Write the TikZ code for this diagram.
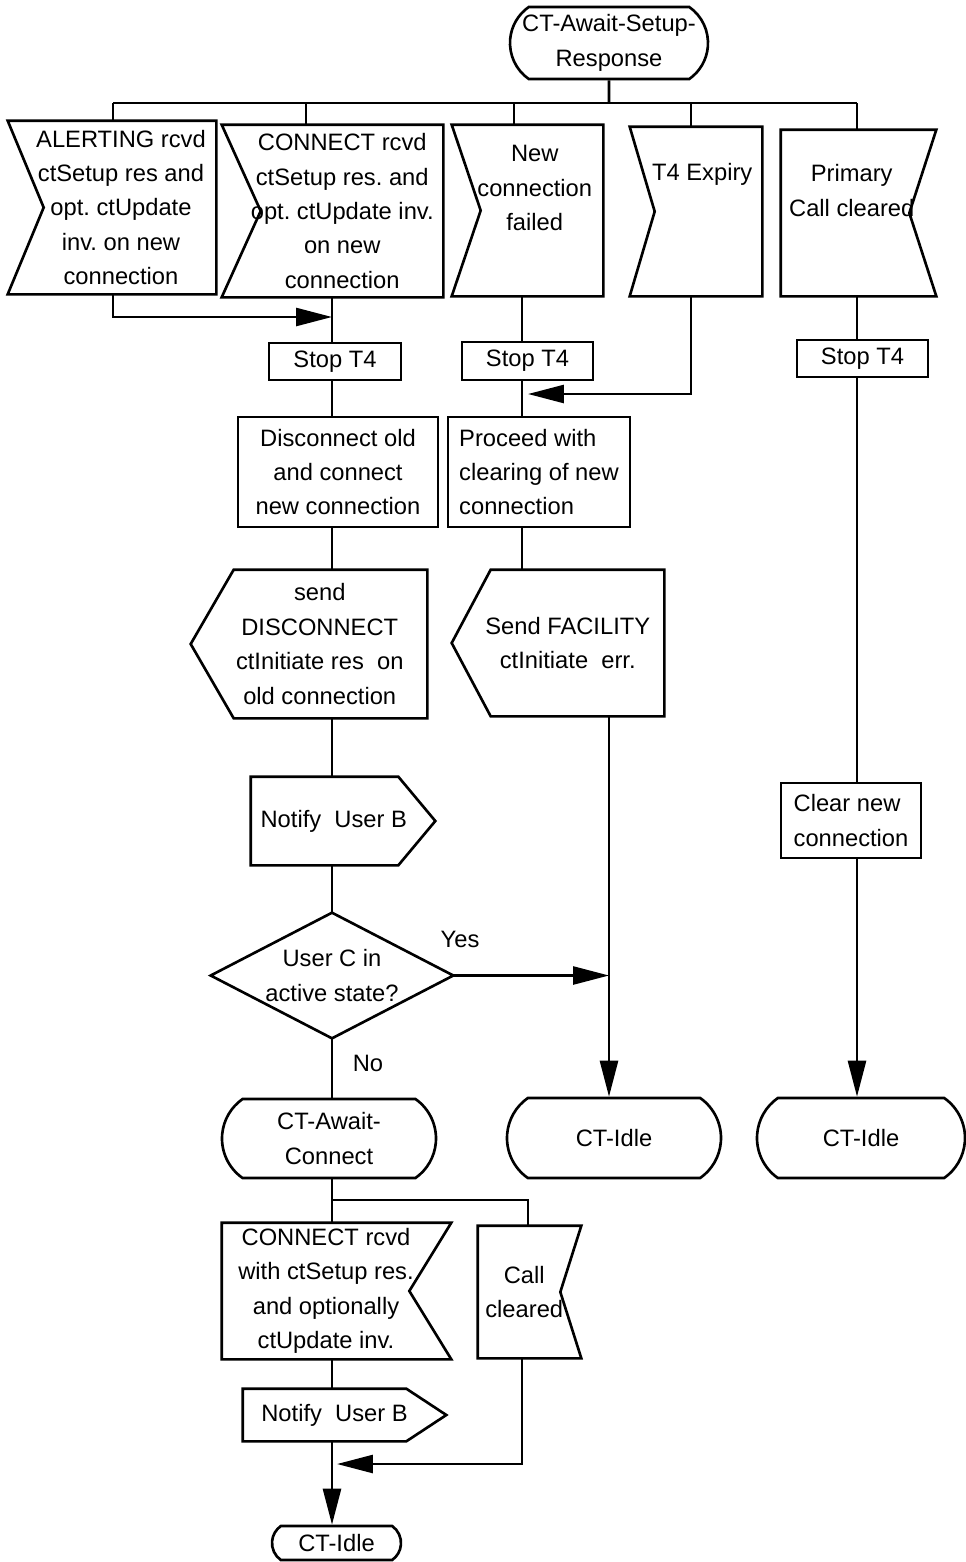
\documentclass[tikz,border=0pt]{standalone}
\usepackage{fontspec}
\setmainfont{Liberation Sans}
\usetikzlibrary{arrows.meta,shapes.misc}
\begin{document}
\begin{tikzpicture}[
        x=0.02cm, y=-0.02cm,
        line width=1.5pt,
        every node/.style={font=\fontsize{13.5}{19.6}\selectfont\frenchspacing, align=center, inner sep=0pt},
        sz/.style 2 args={minimum width=#1*0.02cm, minimum height=#2*0.02cm},
        state/.style={draw, rounded rectangle, rounded rectangle arc length=110},
        task/.style={draw, rectangle},
        arr/.style={-{Triangle[length=0.72cm, width=0.36cm]}}
    ]
    \useasboundingbox (0,0) rectangle (966,1562);

    \coordinate (busL) at (113,103);
    \coordinate (busR) at (857,103);
    \coordinate (colA) at (332,0);
    \coordinate (colB) at (522,0);
    \coordinate (colC) at (609,0);
    \coordinate (colD) at (857,0);
    \coordinate (j1) at (113,317);
    \coordinate (j2) at (691,394);
    \coordinate (j3) at (528,1200);
    \coordinate (j4) at (522,1464);

    \node[state, sz={198}{72}] (start) at (609,43) {CT-Await-Setup-\\Response};
    \node[state, sz={214}{79}] (await) at (329,1138.5) {CT-Await-\\Connect};
    \node[state, sz={214}{80}] (idle1) at (614,1138) {CT-Idle};
    \node[state, sz={208}{80}] (idle2) at (861,1138) {CT-Idle};
    \node[state, sz={129}{34}] (idle3) at (336.5,1543) {CT-Idle};

    \node[sz={188}{171}] (alert) at (121,207.5) {ALERTING rcvd\\ctSetup res and\\opt. ctUpdate\\inv. on new\\connection};
    \node[sz={199.5}{170}] (conn) at (342.25,211) {CONNECT rcvd\\ctSetup res. and\\opt. ctUpdate inv.\\on new\\connection};
    \node[sz={134.5}{169}] (newfail) at (534.75,210.5) {New\\connection\\failed\\\strut};
    \node[sz={117.5}{167}] (t4exp) at (702.25,211.5) {T4 Expiry\\\strut\\\strut};
    \node[sz={139.5}{164}] (primary) at (851.75,213) {Primary\\Call cleared\\\strut};
    \node[sz={206}{134}] (crcvd) at (326,1291) {CONNECT rcvd\\with ctSetup res.\\and optionally\\ctUpdate inv.};
    \node[sz={90.5}{130}] (callclr) at (524.25,1292) {Call\\cleared};

    \node[task, sz={132}{37}] (stop1) at (335,361.5) {Stop T4};
    \node[task, sz={131}{38}] (stop2) at (527.5,361) {Stop T4};
    \node[task, sz={131}{37}] (stop3) at (862.5,358.5) {Stop T4};
    \node[task, sz={200}{110}] (disc) at (338,472) {Disconnect old\\and connect\\new connection};
    \node[task, sz={182}{110}, align=left] (proceed) at (539,472) {Proceed with\\clearing of new\\connection};
    \node[task, sz={140}{75}, align=left] (clearnew) at (851,820.5) {Clear new\\connection};

    \node[sz={212.5}{146}] (senddisc) at (319.75,644) {send\\DISCONNECT\\ctInitiate res~~on\\old connection};
    \node[sz={190.5}{144}] (sendfac) at (567.75,643) {Send FACILITY\\ctInitiate~~err.};
    \node[sz={163.5}{86}] (notify1) at (333.75,821) {Notify~~User B};
    \node[sz={181}{50}] (notify2) at (334.5,1415) {Notify~~User B};

    \node[sz={240}{123}] (decide) at (332,975.5) {User C in\\active state?};
    \node (yes) at (460,939) {Yes};
    \node (no) at (368,1063) {No};

    \foreach \n/\h in {alert/18,conn/19.5,newfail/14.5,t4exp/12.5}
        \draw ([xshift=-\h*0.02cm]\n.north west) -- (\n.north east) -- (\n.south east)
            -- ([xshift=-\h*0.02cm]\n.south west) -- ([xshift=\h*0.02cm]\n.west) -- cycle;
    \foreach \n/\h in {primary/13.5,crcvd/21,callclr/10.5}
        \draw (\n.north west) -- ([xshift=\h*0.02cm]\n.north east) -- ([xshift=-\h*0.02cm]\n.east)
            -- ([xshift=\h*0.02cm]\n.south east) -- (\n.south west) -- cycle;
    \foreach \n/\h in {senddisc/21.5,sendfac/19.5}
        \draw ([xshift=-\h*0.02cm]\n.west) -- ([xshift=\h*0.02cm]\n.north west) -- (\n.north east)
            -- (\n.south east) -- ([xshift=\h*0.02cm]\n.south west) -- cycle;
    \foreach \n/\h in {notify1/18.5,notify2/20}
        \draw (\n.north west) -- ([xshift=-\h*0.02cm]\n.north east) -- ([xshift=\h*0.02cm]\n.east)
            -- ([xshift=-\h*0.02cm]\n.south east) -- (\n.south west) -- cycle;
    \draw (decide.north) -- (decide.east) -- (decide.south) -- (decide.west) -- cycle;

    \draw (start) -- (start |- busL);
    \draw (busL) -- (busR);
    \foreach \x/\n in {113/alert,306/conn,514/newfail,691/t4exp,857/primary}
        \draw (\x,103) -- (\x,103 |- \n.north);

    \draw[arr] (j1 |- alert.south) -- (j1) -- (j1 -| colA);
    \foreach \a/\b in {conn/stop1,stop1/disc,disc/senddisc,senddisc/notify1,notify1/decide,decide/await,await/crcvd,crcvd/notify2}
        \draw (colA |- \a.south) -- (colA |- \b.north);
    \draw[arr] (decide.east) -- (decide.east -| colC);

    \foreach \a/\b in {newfail/stop2,stop2/proceed,proceed/sendfac}
        \draw (colB |- \a.south) -- (colB |- \b.north);
    \draw[arr, shorten >=0.12cm] (j2 |- t4exp.south) -- (j2) -- (j2 -| colB);
    \draw[arr] (colC |- sendfac.south) -- (colC |- idle1.north);

    \foreach \a/\b in {primary/stop3,stop3/clearnew}
        \draw (colD |- \a.south) -- (colD |- \b.north);
    \draw[arr] (colD |- clearnew.south) -- (colD |- idle2.north);

    \draw (colA |- j3) -- (j3) -- (j3 |- callclr.north);
    \draw[arr] (colA |- notify2.south) -- (colA |- idle3.north);
    \draw[arr, shorten >=0.1cm] (j4 |- callclr.south) -- (j4) -- (j4 -| colA);
\end{tikzpicture}
\end{document}
